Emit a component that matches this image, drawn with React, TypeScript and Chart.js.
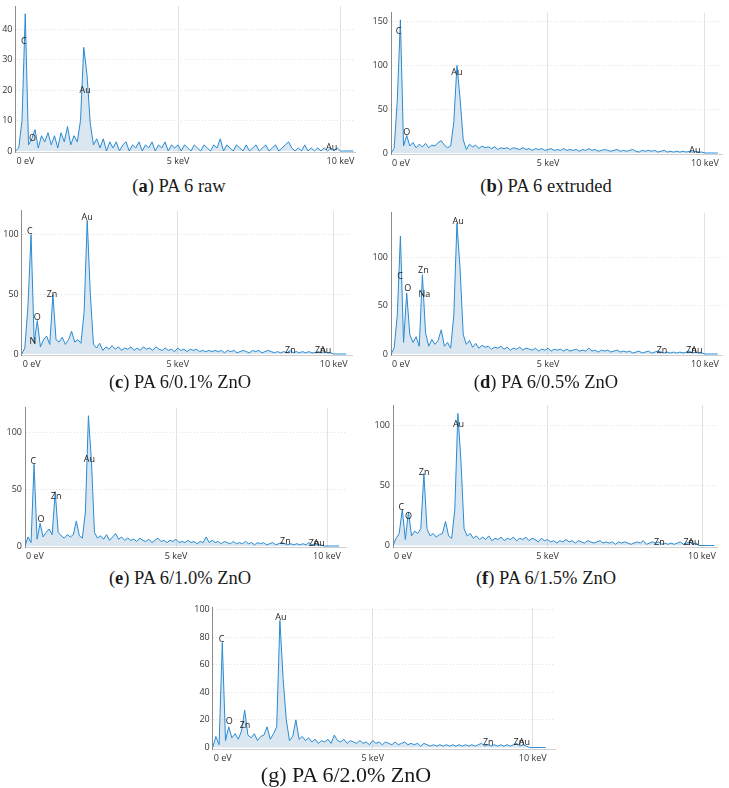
import React, { useEffect, useRef } from "react";
import { Chart, registerables } from "chart.js";

Chart.register(...registerables);

// ---------------- data ----------------
const ENERGY_STEP_KEV = 0.1; // channel width of the spectra below (0.0 ... 10.4 keV)
const X_TICKS_KEV = [0, 5, 10];
const X_TICK_LABELS = ["0 eV", "5 keV", "10 keV"];

const countsA = [
  0, 1, 10, 45, 2, 4, 7, 1, 5, 3,
  6, 2, 5, 1, 6, 3, 8, 2, 5, 3,
  10, 34, 25, 9, 2, 4, 1, 4, 0, 3,
  1, 3, 0, 2, 3, 0, 2, 1, 3, 0,
  2, 1, 3, 0, 2, 1, 3, 0, 2, 1,
  2, 0, 2, 1, 0, 2, 1, 0, 2, 1,
  0, 2, 1, 4, 0, 2, 1, 0, 2, 1,
  0, 2, 0, 1, 2, 0, 1, 2, 0, 1,
  2, 0, 1, 2, 3, 1, 0, 1, 0, 2,
  0, 1, 0, 1, 0, 1, 0, 1, 0, 1,
  0, 0, 0, 0, 0,
];
const countsB = [
  0, 5, 60, 152, 8, 20, 8, 12, 6, 10,
  7, 11, 6, 9, 8, 12, 14, 9, 6, 8,
  35, 100, 62, 15, 4, 10, 7, 9, 5, 8,
  6, 7, 5, 7, 4, 6, 5, 6, 4, 6,
  5, 4, 6, 4, 5, 3, 5, 4, 5, 3,
  4, 5, 3, 4, 3, 5, 3, 4, 3, 4,
  2, 4, 3, 5, 3, 4, 2, 3, 4, 3,
  2, 3, 4, 2, 3, 2, 3, 4, 2, 1,
  3, 2, 3, 2, 3, 1, 2, 3, 1, 2,
  1, 2, 1, 2, 1, 2, 1, 2, 1, 1,
  0, 0, 0, 0, 0,
];
const countsC = [
  0, 5, 40, 100, 10, 28, 6, 12, 15, 8,
  50, 12, 10, 14, 8, 12, 19, 10, 12, 9,
  35, 112, 50, 8, 5, 9, 3, 6, 4, 7,
  4, 6, 3, 5, 4, 6, 3, 5, 3, 6,
  4, 5, 3, 6, 4, 3, 5, 3, 4, 2,
  5, 3, 4, 2, 4, 3, 4, 2, 3, 2,
  3, 2, 3, 2, 3, 1, 3, 2, 3, 1,
  2, 3, 2, 1, 3, 2, 3, 1, 2, 3,
  2, 1, 2, 1, 2, 1, 3, 1, 2, 1,
  2, 1, 2, 1, 1, 2, 1, 2, 1, 1,
  0, 0, 0, 0, 0,
];
const countsD = [
  0, 6, 40, 122, 12, 63, 20, 12, 18, 8,
  82, 22, 8, 15, 10, 14, 25, 8, 12, 6,
  40, 135, 88, 20, 10, 14, 7, 11, 6, 9,
  7, 8, 5, 7, 6, 8, 5, 7, 4, 6,
  5, 7, 4, 6, 5, 4, 6, 3, 5, 4,
  6, 3, 5, 4, 5, 3, 5, 3, 4, 5,
  3, 4, 3, 6, 3, 4, 2, 4, 3, 4,
  2, 3, 4, 2, 3, 2, 3, 1, 2, 3,
  1, 2, 3, 1, 2, 3, 2, 1, 2, 1,
  2, 1, 2, 1, 2, 3, 1, 2, 1, 1,
  0, 0, 0, 0, 0,
];
const countsE = [
  0, 8, 3, 72, 6, 20, 8, 12, 15, 10,
  48, 12, 9, 7, 10, 8, 10, 22, 9, 7,
  30, 115, 75, 12, 7, 9, 6, 10, 5, 8,
  11, 6, 8, 5, 7, 5, 6, 4, 7, 5,
  4, 6, 3, 5, 7, 4, 5, 3, 5, 4,
  6, 3, 4, 3, 5, 3, 4, 2, 4, 3,
  8, 3, 5, 3, 4, 2, 4, 3, 2, 4,
  2, 3, 2, 4, 2, 3, 1, 3, 2, 3,
  1, 2, 3, 1, 2, 3, 2, 1, 2, 1,
  2, 1, 2, 1, 3, 1, 2, 1, 1, 0,
  0, 0, 0, 0, 0,
];
const countsF = [
  0, 6, 10, 30, 5, 28, 8, 12, 10, 14,
  60, 14, 8, 10, 7, 9, 10, 20, 8, 6,
  30, 110, 70, 14, 8, 10, 6, 8, 5, 7,
  5, 8, 4, 6, 5, 7, 4, 6, 5, 7,
  4, 6, 5, 7, 4, 6, 5, 3, 6, 4,
  5, 3, 4, 2, 4, 3, 5, 3, 4, 2,
  4, 3, 2, 4, 3, 2, 3, 4, 2, 3,
  2, 3, 1, 3, 2, 3, 2, 1, 2, 3,
  2, 4, 1, 2, 3, 2, 3, 1, 2, 1,
  2, 1, 2, 3, 1, 2, 3, 1, 2, 0,
  0, 0, 0, 0, 0,
];
const countsG = [
  0, 8, 2, 76, 5, 15, 7, 10, 6, 12,
  27, 9, 7, 10, 5, 8, 9, 15, 6, 10,
  15, 92, 50, 20, 5, 8, 20, 6, 8, 5,
  7, 4, 6, 3, 5, 4, 6, 3, 9, 5,
  4, 6, 3, 5, 4, 3, 5, 3, 4, 2,
  5, 3, 4, 2, 4, 3, 2, 4, 2, 3,
  4, 2, 3, 2, 3, 1, 3, 2, 1, 2,
  1, 2, 1, 2, 1, 2, 1, 2, 1, 2,
  1, 2, 1, 2, 3, 1, 2, 1, 2, 1,
  2, 1, 2, 1, 2, 3, 1, 2, 1, 0,
  0, 0, 0, 0, 0,
];

// peak labels: element text, energy (keV), counts where the label sits
const peaksA = [
  { t: "C", e: 0.26, v: 36 }, { t: "O", e: 0.52, v: 4.2 },
  { t: "Au", e: 2.14, v: 20 }, { t: "Au", e: 9.73, v: 1.1 },
];
const peaksB = [
  { t: "C", e: 0.24, v: 139 }, { t: "O", e: 0.5, v: 24 },
  { t: "Au", e: 2.1, v: 92 }, { t: "Au", e: 9.68, v: 2.6 },
];
const peaksC = [
  { t: "C", e: 0.26, v: 102.5 }, { t: "N", e: 0.36, v: 10.3 }, { t: "O", e: 0.5, v: 31 },
  { t: "Zn", e: 0.97, v: 50.3 }, { t: "Au", e: 2.1, v: 114.6 },
  { t: "Zn", e: 8.61, v: 2.8 }, { t: "Zn", e: 9.57, v: 2.8 }, { t: "Au", e: 9.74, v: 2.8 },
];
const peaksD = [
  { t: "C", e: 0.29, v: 80 }, { t: "O", e: 0.53, v: 68 }, { t: "Zn", e: 1.03, v: 86 },
  { t: "Na", e: 1.06, v: 62 }, { t: "Au", e: 2.14, v: 137 },
  { t: "Zn", e: 8.63, v: 3.4 }, { t: "Zn", e: 9.57, v: 3.4 }, { t: "Au", e: 9.74, v: 3.4 },
];
const peaksE = [
  { t: "C", e: 0.28, v: 74.4 }, { t: "O", e: 0.53, v: 23.8 }, { t: "Zn", e: 1.03, v: 44 },
  { t: "Au", e: 2.13, v: 76 },
  { t: "Zn", e: 8.62, v: 3.8 }, { t: "Zn", e: 9.57, v: 2.6 }, { t: "Au", e: 9.74, v: 2.6 },
];
const peaksF = [
  { t: "C", e: 0.27, v: 31.8 }, { t: "O", e: 0.5, v: 24 }, { t: "Zn", e: 1.01, v: 60.7 },
  { t: "Au", e: 2.12, v: 101 },
  { t: "Zn", e: 8.62, v: 2.3 }, { t: "Zn", e: 9.57, v: 2.3 }, { t: "Au", e: 9.74, v: 2.3 },
];
const peaksG = [
  { t: "C", e: 0.28, v: 78 }, { t: "O", e: 0.52, v: 19 }, { t: "Zn", e: 1.01, v: 16 },
  { t: "Au", e: 2.13, v: 94 },
  { t: "Zn", e: 8.61, v: 3.5 }, { t: "Zn", e: 9.57, v: 3.5 }, { t: "Au", e: 9.74, v: 3.5 },
];

const yTicksA = [0, 10, 20, 30, 40];
const yTicksB = [0, 50, 100, 150];
const yTicksC = [0, 50, 100];
const yTicksD = [0, 50, 100];
const yTicksE = [0, 50, 100];
const yTicksF = [0, 50, 100];
const yTicksG = [0, 20, 40, 60, 80, 100];

const CAPTION_LETTERS = ["a", "b", "c", "d", "e", "f", "g"];
const CAPTION_TEXTS = [
  "PA 6 raw", "PA 6 extruded", "PA 6/0.1% ZnO", "PA 6/0.5% ZnO",
  "PA 6/1.0% ZnO", "PA 6/1.5% ZnO", "PA 6/2.0% ZnO",
];

// ---------------- layout (page pixels) ----------------
type Geo = {
  x0: number; kx: number; xMax: number;
  y0: number; ky: number; yMax: number; yMin: number;
};
const GEOS: Geo[] = [
  { x0: 15.5, kx: 32.5, xMax: 10.45, y0: 151, ky: 3.05, yMax: 47.5, yMin: -0.5 },
  { x0: 391, kx: 31.4, xMax: 10.55, y0: 153, ky: 0.876, yMax: 160, yMin: -1.7 },
  { x0: 21.7, kx: 31.2, xMax: 10.6, y0: 354, ky: 1.193, yMax: 120, yMin: -1.3 },
  { x0: 391, kx: 31.4, xMax: 10.57, y0: 354, ky: 0.967, yMax: 146, yMin: -1.6 },
  { x0: 25, kx: 30.2, xMax: 10.66, y0: 546, ky: 1.133, yMax: 122, yMin: -1.4 },
  { x0: 393, kx: 30.9, xMax: 10.5, y0: 545.5, ky: 1.2, yMax: 117, yMin: -1.3 },
  { x0: 212.7, kx: 32, xMax: 10.7, y0: 747.5, ky: 1.38, yMax: 101.5, yMin: -1.1 },
];
const CAPTION_POS = [
  { cx: 179, cy: 186, size: 18.5, bold: true },
  { cx: 546, cy: 186, size: 18.5, bold: true },
  { cx: 180, cy: 382, size: 18.5, bold: true },
  { cx: 546, cy: 382, size: 18.5, bold: true },
  { cx: 180, cy: 578, size: 18.5, bold: true },
  { cx: 546, cy: 578, size: 18.5, bold: true },
  { cx: 346, cy: 775, size: 22, bold: false },
];

const FONT = "'Open Sans', 'Noto Sans', sans-serif";

const textPlugin = {
  id: "spectrumText",
  afterDatasetsDraw(chart: any, _args: any, opts: any) {
    const { ctx, chartArea } = chart;
    const x = chart.scales.x;
    const y = chart.scales.y;
    ctx.save();
    ctx.font = `9px ${FONT}`;
    ctx.fillStyle = "#1c1c1c";
    ctx.textAlign = "center";
    ctx.textBaseline = "middle";
    (opts.peaks || []).forEach((p: any) => {
      ctx.fillText(p.t, x.getPixelForValue(p.e), y.getPixelForValue(p.v));
    });
    ctx.fillStyle = "#333";
    X_TICKS_KEV.forEach((v, i) => {
      ctx.textAlign = i === 0 ? "left" : "center";
      ctx.fillText(X_TICK_LABELS[i], x.getPixelForValue(v) + (i === 0 ? 1 : 0), chartArea.bottom + 9);
    });
    ctx.restore();
  },
};

function Spectrum({ counts, peaks, yTicks, geo }: { counts: number[]; peaks: any[]; yTicks: number[]; geo: Geo }) {
  const ref = useRef<HTMLCanvasElement>(null);
  const top = geo.y0 - geo.yMax * geo.ky;
  const bottom = geo.y0 - geo.yMin * geo.ky;
  const chartRight = geo.x0 + geo.xMax * geo.kx;
  const canvasLeft = Math.floor(geo.x0) - 28;
  const canvasTop = Math.floor(top) - 10;
  const canvasWidth = Math.ceil(chartRight) + 3 - canvasLeft;
  const canvasHeight = Math.ceil(bottom) + 18 - canvasTop;
  const yAxisW = geo.x0 - canvasLeft;
  const padTop = top - canvasTop;
  const padRight = canvasLeft + canvasWidth - chartRight;
  const xAxisH = canvasTop + canvasHeight - bottom;

  useEffect(() => {
    if (!ref.current) return;
    const data = counts.map((c, i) => ({ x: Math.round(i * ENERGY_STEP_KEV * 100) / 100, y: c }));
    const chart = new Chart(ref.current, {
      type: "line",
      data: {
        datasets: [
          {
            data,
            borderColor: "#2a8bd2",
            borderWidth: 1,
            pointRadius: 0,
            tension: 0,
            fill: "origin",
            backgroundColor: "rgba(150,185,215,0.35)",
          },
        ],
      },
      plugins: [textPlugin],
      options: {
        animation: false,
        responsive: false,
        devicePixelRatio: 1,
        layout: { padding: { top: padTop, right: padRight, left: 0, bottom: 0 } },
        plugins: {
          legend: { display: false },
          tooltip: { enabled: false },
          spectrumText: { peaks },
        } as any,
        scales: {
          x: {
            type: "linear",
            min: 0,
            max: geo.xMax,
            afterBuildTicks: (s: any) => {
              s.ticks = X_TICKS_KEV.map((v) => ({ value: v }));
            },
            afterFit: (s: any) => {
              s.height = xAxisH;
            },
            ticks: { display: false },
            grid: {
              color: (c: any) => (c.tick && c.tick.value === 0 ? "rgba(0,0,0,0)" : "#e1e1e1"),
              drawTicks: false,
            },
            border: { display: true, color: "#cfcfcf" },
          },
          y: {
            type: "linear",
            min: geo.yMin,
            max: geo.yMax,
            afterBuildTicks: (s: any) => {
              s.ticks = yTicks.map((v) => ({ value: v }));
            },
            afterFit: (s: any) => {
              s.width = yAxisW;
            },
            ticks: { font: { family: FONT, size: 9 }, color: "#333", padding: 3 },
            grid: {
              color: (c: any) => (c.tick && c.tick.value === 0 ? "rgba(0,0,0,0)" : "#e1e1e1"),
              drawTicks: false,
            },
            border: { display: true, color: "#8c8c8c", dash: [1, 2] },
          },
        },
      } as any,
    });
    return () => chart.destroy();
  }, []);

  return (
    <canvas
      ref={ref}
      width={canvasWidth}
      height={canvasHeight}
      style={{ position: "absolute", left: canvasLeft, top: canvasTop, width: canvasWidth, height: canvasHeight }}
    />
  );
}

const SERIES = [countsA, countsB, countsC, countsD, countsE, countsF, countsG];
const PEAKS = [peaksA, peaksB, peaksC, peaksD, peaksE, peaksF, peaksG];
const YTICKS = [yTicksA, yTicksB, yTicksC, yTicksD, yTicksE, yTicksF, yTicksG];

export default function App() {
  return (
    <div style={{ position: "absolute", left: 0, top: 0, width: 729, height: 788, background: "#fff", overflow: "hidden" }}>
      {SERIES.map((s, i) => (
        <Spectrum key={i} counts={s} peaks={PEAKS[i]} yTicks={YTICKS[i]} geo={GEOS[i]} />
      ))}
      {CAPTION_TEXTS.map((t, i) => {
        const p = CAPTION_POS[i];
        return (
          <div
            key={"c" + i}
            style={{
              position: "absolute",
              left: p.cx - 150,
              width: 300,
              top: p.cy - 12,
              height: 24,
              lineHeight: "24px",
              textAlign: "center",
              fontFamily: "'Liberation Serif', 'DejaVu Serif', serif",
              fontSize: p.size,
              color: "#1a1a1a",
              whiteSpace: "nowrap",
            }}
          >
            ({p.bold ? <b>{CAPTION_LETTERS[i]}</b> : CAPTION_LETTERS[i]}) {t}
          </div>
        );
      })}
    </div>
  );
}
